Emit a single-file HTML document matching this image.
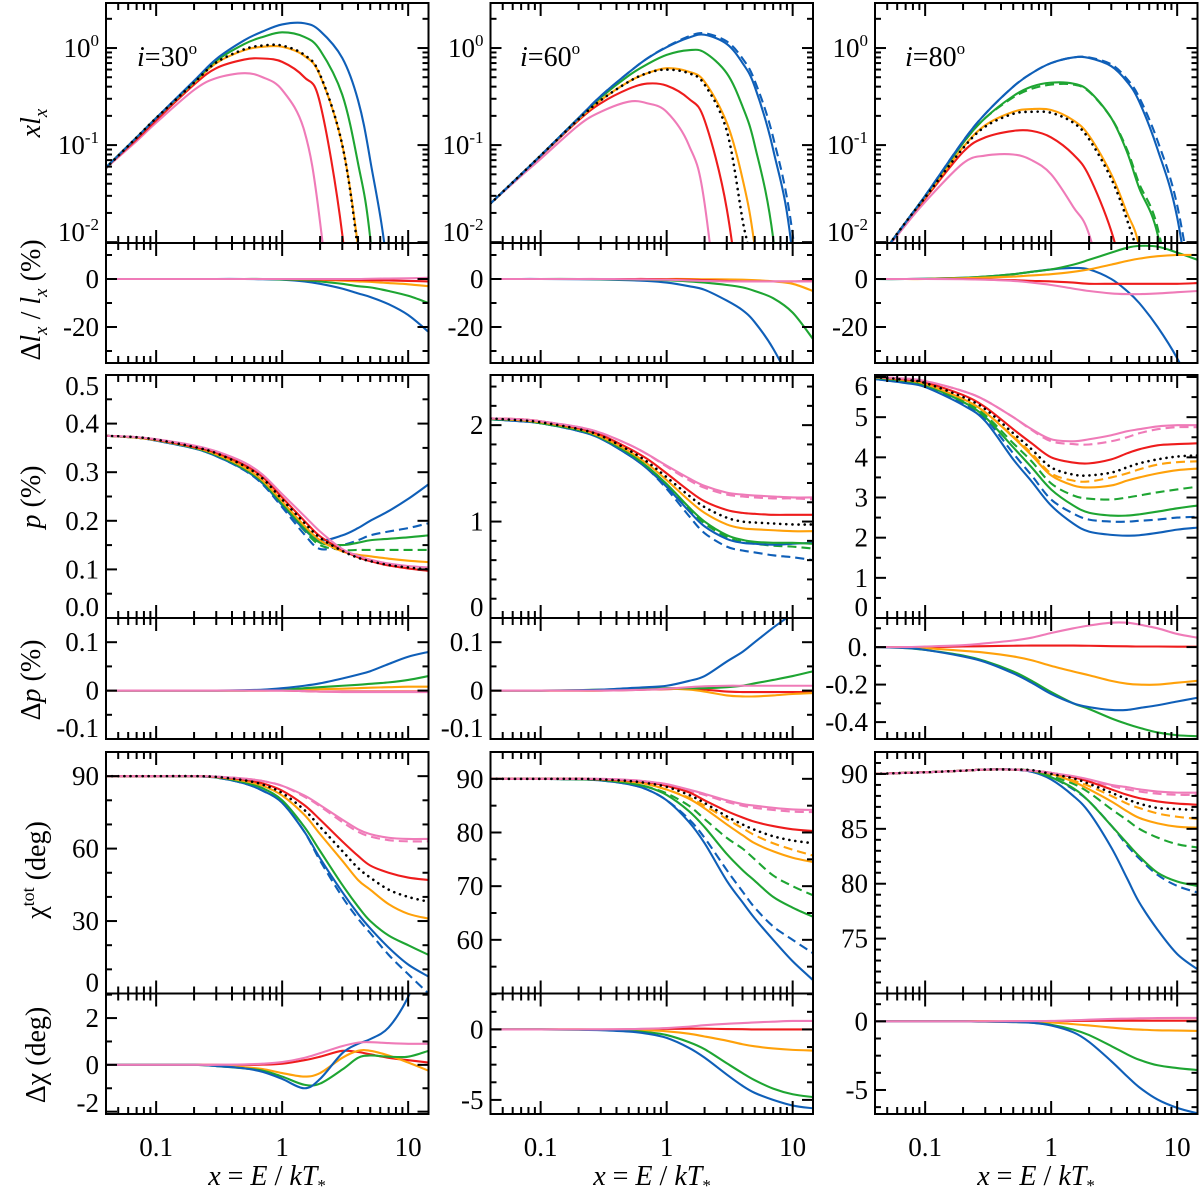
<!DOCTYPE html>
<html><head><meta charset="utf-8"><style>
html,body{margin:0;padding:0;background:#fff;width:1200px;height:1193px;overflow:hidden;}
svg{display:block;font-family:"Liberation Serif","DejaVu Serif",serif;}
text{font-family:"Liberation Serif","DejaVu Serif",serif;}
</style></head><body>
<svg id="fig" width="1200" height="1193" viewBox="0 0 1200 1193" xmlns="http://www.w3.org/2000/svg" font-family="Liberation Serif, serif">
<rect width="1200" height="1193" fill="#fff"/>
<g id="curves"></g>
<g id="frames"></g>
<g id="labels" font-size="26" fill="#000" font-family="Liberation Serif, serif">
  <text x="137" y="66" font-size="28"><tspan font-style="italic">i</tspan>=30<tspan font-size="17" dy="-12">o</tspan></text>
  <text x="520" y="66" font-size="28"><tspan font-style="italic">i</tspan>=60<tspan font-size="17" dy="-12">o</tspan></text>
  <text x="905" y="66" font-size="28"><tspan font-style="italic">i</tspan>=80<tspan font-size="17" dy="-12">o</tspan></text>
  <text transform="translate(40,123) rotate(-90)" text-anchor="middle" font-size="28"><tspan font-style="italic">xl</tspan><tspan font-style="italic" font-size="19" dy="7">x</tspan></text>
  <text transform="translate(40,300) rotate(-90)" text-anchor="middle" font-size="28">Δ<tspan font-style="italic">l</tspan><tspan font-style="italic" font-size="19" dy="7">x</tspan><tspan dy="-7"> / </tspan><tspan font-style="italic">l</tspan><tspan font-style="italic" font-size="19" dy="7">x</tspan><tspan dy="-7"> (%)</tspan></text>
  <text transform="translate(40,497) rotate(-90)" text-anchor="middle" font-size="28"><tspan font-style="italic">p</tspan> (%)</text>
  <text transform="translate(40,680) rotate(-90)" text-anchor="middle" font-size="28">Δ<tspan font-style="italic">p</tspan> (%)</text>
  <text transform="translate(45,870) rotate(-90)" text-anchor="middle" font-size="28">χ<tspan font-size="18" dy="-11">tot</tspan><tspan dy="11"> (deg)</tspan></text>
  <text transform="translate(45,1055) rotate(-90)" text-anchor="middle" font-size="28">Δχ (deg)</text>
  <text x="267" y="1185" text-anchor="middle" font-size="28"><tspan font-style="italic">x</tspan> = <tspan font-style="italic">E</tspan> / <tspan font-style="italic">kT</tspan><tspan font-size="17" dy="6">*</tspan></text>
  <text x="652" y="1185" text-anchor="middle" font-size="28"><tspan font-style="italic">x</tspan> = <tspan font-style="italic">E</tspan> / <tspan font-style="italic">kT</tspan><tspan font-size="17" dy="6">*</tspan></text>
  <text x="1036" y="1185" text-anchor="middle" font-size="28"><tspan font-style="italic">x</tspan> = <tspan font-style="italic">E</tspan> / <tspan font-style="italic">kT</tspan><tspan font-size="17" dy="6">*</tspan></text>
</g>
</svg>
<script>
// ---------- data ----------
const xGrid = [0.04,0.07,0.1,0.2,0.3,0.5,0.7,1,1.5,2,3,4,5,7,10,14.5];
const xTickVals = [0.1,1,10];
const xTickLabels = ["0.1","1","10"];

// row 1: x*l_x
const lx30_blue   = [.059,.12,.19,.46,.77,1.2,1.48,1.75,1.8,1.5,0.79,0.29,0.07,0.004,1e-5,1e-7];
const lx30_green  = [.059,.12,.19,.45,.74,1.1,1.3,1.45,1.3,0.95,0.33,0.065,0.011,1e-4,1e-7,1e-9];
const lx30_orange = [.059,.12,.19,.44,.7,.95,1.03,1.03,.83,.52,.1,.009,5e-4,1e-6,1e-9,1e-12];
const lx30_dotted = [.058,.12,.19,.44,.71,.97,1.06,1.06,.85,.53,.1,.008,4e-4,1e-6,1e-9,1e-12];
const lx30_red    = [.059,.115,.18,.42,.62,.76,.78,.72,.5,.27,.012,2e-4,1e-6,1e-9,1e-12,1e-14];
const lx30_pink   = [.058,.11,.17,.37,.49,.55,.5,.37,.14,.016,1e-4,1e-6,1e-8,1e-10,1e-12,1e-14];

const lx60_blue   = [.025,.05,.078,.19,.32,.56,.78,1.02,1.28,1.37,1.1,.7,.4,.09,.007,1e-5];
const lx60_blueD  = [.025,.05,.078,.19,.32,.56,.78,1.03,1.32,1.42,1.17,.78,.46,.12,.012,1e-4];
const lx60_green  = [.025,.05,.078,.19,.31,.52,.68,.85,.95,.9,.55,.25,.1,.011,1e-4,1e-7];
const lx60_orange = [.025,.05,.078,.185,.29,.45,.55,.62,.57,.45,.17,.045,.009,2e-4,1e-7,1e-10];
const lx60_dotted = [.025,.05,.078,.185,.29,.45,.55,.6,.55,.42,.14,.017,.003,1e-5,1e-8,1e-11];
const lx60_red    = [.025,.05,.077,.18,.27,.38,.43,.41,.3,.18,.022,.001,1e-5,1e-8,1e-11,1e-14];
const lx60_pink   = [.025,.048,.072,.16,.22,.28,.27,.22,.1,.025,2e-4,1e-6,1e-8,1e-10,1e-12,1e-14];

const lx80_blue   = [.006,.016,.03,.11,.21,.4,.55,.7,.8,.79,.65,.45,.28,.09,.018,.0008];
const lx80_blueD  = [.006,.016,.03,.11,.21,.4,.55,.7,.8,.8,.68,.48,.31,.11,.024,.0015];
const lx80_green  = [.006,.016,.03,.105,.19,.32,.4,.44,.43,.36,.19,.085,.036,.012,.0008,1e-5];
const lx80_greenD = [.006,.016,.03,.105,.19,.31,.38,.42,.42,.355,.19,.09,.04,.014,.001,1e-5];
const lx80_orange = [.006,.016,.029,.095,.16,.22,.235,.23,.18,.125,.05,.02,.009,.0008,1e-5,1e-8];
const lx80_dotted = [.006,.016,.029,.093,.155,.21,.22,.215,.17,.115,.045,.017,.006,.0004,1e-6,1e-9];
const lx80_red    = [.006,.016,.028,.085,.12,.14,.14,.12,.08,.048,.013,.003,6e-4,1e-5,1e-8,1e-11];
const lx80_pink   = [.006,.015,.026,.065,.078,.08,.07,.05,.023,.012,.0015,1e-4,1e-5,1e-7,1e-9,1e-11];

// row 2: delta l_x / l_x (%)
const dl30_blue   = [0,0,0,0,0,0,-0.1,-0.3,-1,-2,-4,-6,-7.5,-10.5,-15,-22];
const dl30_green  = [0,0,0,0,0,0,0,-0.2,-0.5,-1,-2,-3,-3.5,-5,-7,-10];
const dl30_orange = [0,0,0,0,0,0,0,0,-0.1,-0.3,-0.7,-1,-1.2,-1.7,-2.2,-3];
const dl30_red    = [0,0,0,0,0,0,0,0,-0.1,-0.2,-0.3,-0.4,-0.5,-0.6,-0.8,-1];
const dl30_pink   = [0,0,0,0,0,0,0,0,0,0,0,0,0.1,0.2,0.3,0.5];
const dl60_blue   = [0,0,0,-0.1,-0.2,-0.5,-0.8,-1.5,-3,-4.5,-9,-13,-18,-29,-45,-65];
const dl60_green  = [0,0,0,0,-0.1,-0.2,-0.3,-0.5,-1,-1.5,-2.5,-3.5,-5,-8,-14,-25];
const dl60_orange = [0,0,0,0,0,0,0,0,0,-0.1,-0.2,-0.3,-0.5,-1,-2,-5];
const dl60_red    = [0,0,0,0,0,0,0,-0.1,-0.3,-0.5,-0.8,-1,-1,-1,-1,-0.8];
const dl60_pink   = [0,0,0,0,0,-0.1,-0.2,-0.3,-0.6,-0.8,-1,-1,-1,-1,-1,-1];
const dl80_blue   = [0,0,0.1,0.5,1,2,3,4,4.6,4,0,-5,-10,-20,-33,-50];
const dl80_green  = [0,0,0.1,0.5,1,2,3,4,6,8,11,13,13.8,13.5,11,8];
const dl80_orange = [0,0,0,0.3,0.6,1,1.5,2,3,4,6,7.5,8.5,9.5,10,10];
const dl80_red    = [0,0,0,0,-0.2,-0.5,-0.8,-1,-1.5,-2,-2,-2,-2,-2,-2,-1.7];
const dl80_pink   = [0,0,0,-0.1,-0.3,-0.8,-1.5,-2.5,-4,-5,-6,-6.3,-6.3,-6,-5.5,-5];

// row 3: p (%)
const p30_pink    = [.375,.372,.368,.355,.343,.32,.295,.255,.21,.178,.142,.128,.12,.112,.107,.104];
const p30_red     = [.375,.372,.367,.352,.34,.315,.29,.248,.2,.168,.14,.125,.117,.108,.102,.097];
const p30_dotted  = [.375,.372,.367,.352,.339,.313,.287,.244,.196,.165,.138,.124,.117,.109,.104,.1];
const p30_orange  = [.375,.371,.366,.351,.337,.31,.283,.24,.19,.16,.137,.13,.127,.122,.118,.115];
const p30_green   = [.375,.371,.366,.35,.335,.307,.28,.235,.185,.155,.15,.155,.16,.163,.166,.17];
const p30_greenD  = [.375,.371,.366,.35,.335,.307,.279,.233,.18,.15,.14,.14,.14,.14,.14,.14];
const p30_blue    = [.375,.371,.365,.349,.333,.305,.277,.232,.182,.16,.17,.185,.2,.22,.245,.275];
const p30_blueD   = [.375,.371,.365,.349,.333,.304,.275,.228,.172,.142,.15,.16,.17,.178,.185,.195];
const p60_pink    = [2.07,2.06,2.04,1.98,1.92,1.8,1.7,1.58,1.45,1.37,1.3,1.28,1.27,1.26,1.25,1.25];
const p60_pinkD   = [2.07,2.06,2.04,1.98,1.92,1.8,1.7,1.57,1.43,1.35,1.28,1.26,1.25,1.24,1.24,1.23];
const p60_red     = [2.07,2.06,2.04,1.97,1.9,1.76,1.65,1.5,1.32,1.21,1.12,1.09,1.08,1.07,1.07,1.07];
const p60_dotted  = [2.07,2.05,2.03,1.96,1.89,1.74,1.62,1.46,1.27,1.15,1.04,1.0,0.99,0.98,0.97,0.97];
const p60_orange  = [2.07,2.05,2.03,1.96,1.88,1.73,1.6,1.43,1.22,1.09,0.97,0.93,0.92,0.91,0.9,0.9];
const p60_green   = [2.06,2.05,2.02,1.95,1.87,1.71,1.57,1.39,1.15,1.0,0.86,0.81,0.79,0.78,0.78,0.77];
const p60_greenD  = [2.06,2.05,2.02,1.95,1.87,1.71,1.57,1.38,1.13,0.98,0.84,0.79,0.77,0.75,0.74,0.72];
const p60_blue    = [2.06,2.04,2.02,1.94,1.86,1.69,1.55,1.36,1.11,0.95,0.82,0.78,0.77,0.76,0.77,0.78];
const p60_blueD   = [2.06,2.04,2.02,1.94,1.86,1.69,1.55,1.34,1.06,0.88,0.74,0.7,0.68,0.65,0.63,0.6];
const p80_pink    = [6.0,5.96,5.9,5.65,5.42,5.0,4.7,4.45,4.4,4.45,4.55,4.65,4.7,4.77,4.8,4.8];
const p80_pinkD   = [6.0,5.96,5.9,5.65,5.42,5.0,4.68,4.4,4.33,4.32,4.4,4.5,4.6,4.7,4.75,4.75];
const p80_red     = [6.0,5.94,5.87,5.55,5.25,4.7,4.35,4.0,3.87,3.85,3.95,4.1,4.2,4.3,4.33,4.35];
const p80_dotted  = [6.0,5.93,5.85,5.5,5.2,4.6,4.2,3.75,3.57,3.55,3.62,3.75,3.85,3.95,4.02,4.05];
const p80_orange  = [6.0,5.92,5.83,5.45,5.12,4.5,4.05,3.55,3.3,3.25,3.3,3.42,3.5,3.6,3.68,3.72];
const p80_orangeD = [6.0,5.92,5.83,5.45,5.12,4.52,4.1,3.6,3.42,3.4,3.5,3.6,3.7,3.82,3.88,3.9];
const p80_green   = [5.98,5.9,5.8,5.38,5.0,4.25,3.75,3.2,2.8,2.62,2.55,2.55,2.58,2.65,2.73,2.8];
const p80_greenD  = [5.98,5.9,5.8,5.4,5.05,4.35,3.9,3.35,3.05,2.97,2.95,3.0,3.05,3.13,3.2,3.27];
const p80_blue    = [5.95,5.85,5.75,5.3,4.9,3.95,3.4,2.8,2.35,2.15,2.07,2.05,2.06,2.12,2.2,2.25];
const p80_blueD   = [5.95,5.86,5.77,5.35,4.97,4.1,3.55,2.95,2.6,2.45,2.4,2.4,2.42,2.45,2.5,2.52];

// row 4: delta p (%)
const dp30_blue   = [0,0,0,0,0,0.001,0.002,0.005,0.01,0.015,0.025,0.033,0.04,0.055,0.07,0.08];
const dp30_green  = [0,0,0,0,0,0,0.001,0.002,0.005,0.007,0.01,0.012,0.014,0.017,0.022,0.03];
const dp30_orange = [0,0,0,0,0,0,0,0.001,0.002,0.003,0.004,0.005,0.006,0.007,0.008,0.008];
const dp30_red    = [0,0,0,0,0,0,0,0,-0.001,-0.002,-0.002,-0.002,-0.002,-0.002,-0.002,-0.002];
const dp30_pink   = [0,0,0,0,0,0,0,0,-0.001,-0.002,-0.003,-0.003,-0.003,-0.003,-0.003,-0.003];
const dp60_blue   = [0,0,0,0.001,0.002,0.005,0.007,0.01,0.02,0.03,0.06,0.08,0.1,0.13,0.16,0.2];
const dp60_green  = [0,0,0,0.001,0.002,0.003,0.004,0.005,0.005,0.005,0.007,0.01,0.015,0.022,0.03,0.04];
const dp60_orange = [0,0,0,0,0,0.002,0.003,0.004,0.002,-0.002,-0.01,-0.012,-0.012,-0.01,-0.007,-0.005];
const dp60_red    = [0,0,0,0,0,0.001,0.002,0.003,0.004,0.002,-0.002,-0.003,-0.003,-0.003,-0.003,-0.003];
const dp60_pink   = [0,0,0,0,0,0.001,0.002,0.004,0.007,0.009,0.01,0.01,0.01,0.01,0.01,0.01];
const dp80_blue   = [0,-0.005,-0.015,-0.05,-0.08,-0.14,-0.19,-0.25,-0.3,-0.32,-0.335,-0.335,-0.325,-0.31,-0.29,-0.27];
const dp80_green  = [0,-0.005,-0.015,-0.045,-0.075,-0.13,-0.18,-0.24,-0.3,-0.33,-0.38,-0.41,-0.43,-0.455,-0.47,-0.475];
const dp80_orange = [0,0,-0.005,-0.02,-0.03,-0.05,-0.07,-0.1,-0.13,-0.15,-0.18,-0.195,-0.2,-0.2,-0.19,-0.18];
const dp80_red    = [0,0,0,0.003,0.005,0.007,0.008,0.008,0.008,0.007,0.005,0.004,0.003,0.003,0.002,0.002];
const dp80_pink   = [0,0,0.003,0.01,0.02,0.035,0.05,0.075,0.1,0.115,0.13,0.13,0.12,0.1,0.07,0.05];

// row 5: chi_tot (deg)
const ch30_pink   = [90,90,90,90,89.8,89,88,86,82,78,72,68,66,64.5,64,64];
const ch30_pinkD  = [90,90,90,90,89.8,89,88,86,81.5,77.5,71,67,65,63.5,63,63];
const ch30_red    = [90,90,90,90,89.7,88.5,87,84,78,72,63,57,53,50,48,47];
const ch30_dotted = [90,90,90,90,89.7,88.3,86.5,83,76,69,59,52,48,43,40,38];
const ch30_orange = [90,90,90,90,89.6,88,86,82,74,66,55,47,43,37,33,31];
const ch30_green  = [90,90,90,89.9,89.5,87.5,85,80,69,59,45,36,30,24,20,16];
const ch30_blue   = [90,90,90,89.9,89.4,87,84,79,67,56,42,33,27,19,12,7];
const ch30_blueD  = [90,90,90,89.9,89.4,87,84,79,67,55,40,31,25,16,8,0];
const ch60_pink   = [90,90,90,90,90,89.8,89.5,89,88,87.2,86,85.3,85,84.6,84.3,84.2];
const ch60_pinkD  = [90,90,90,90,90,89.8,89.5,89,87.8,87,85.7,85,84.6,84.2,83.9,83.8];
const ch60_red    = [90,90,90,90,89.9,89.7,89.4,88.7,87.5,86,84,82.8,82,81.2,80.6,80.3];
const ch60_dotted = [90,90,90,90,89.9,89.6,89.2,88.5,87,85.5,83,81.5,80.5,79.3,78.5,78];
const ch60_orange = [90,90,90,90,89.9,89.5,89,88,86.3,84.5,81.5,79.5,78,76.5,75.3,74.5];
const ch60_orangeD= [90,90,90,90,89.9,89.5,89,88,86.5,85,82.5,80.8,79.5,78,76.8,75.7];
const ch60_green  = [90,90,90,89.9,89.8,89.2,88.5,87,84,81,76,73,71,68,66,64.3];
const ch60_greenD = [90,90,90,89.9,89.8,89.2,88.5,87.3,85,82.5,79,77,75,72,70,68.3];
const ch60_blue   = [90,90,90,89.9,89.7,89,88,86,82,78,71,67,64,60,56,52.5];
const ch60_blueD  = [90,90,90,89.9,89.7,89,88,86,82.5,79,73,69,66,62.5,60,57.5];
const ch80_pink   = [90,90.1,90.15,90.3,90.4,90.4,90.3,90.1,89.8,89.5,89,88.8,88.6,88.4,88.3,88.3];
const ch80_pinkD  = [90,90.1,90.15,90.3,90.4,90.4,90.3,90.1,89.7,89.4,88.9,88.6,88.4,88.2,88.1,88.1];
const ch80_red    = [90,90.1,90.15,90.3,90.4,90.4,90.3,90.1,89.7,89.3,88.6,88.1,87.8,87.5,87.3,87.2];
const ch80_dotted = [90,90.1,90.15,90.3,90.4,90.4,90.35,90,89.6,89.1,88.3,87.7,87.3,86.9,86.8,86.7];
const ch80_orange = [90,90.1,90.15,90.3,90.4,90.4,90.3,90,89.3,88.6,87.5,86.6,86,85.5,85.2,85.1];
const ch80_orangeD= [90,90.1,90.15,90.3,90.4,90.4,90.3,90,89.4,88.9,88,87.3,86.9,86.4,86.1,85.9];
const ch80_green  = [90,90.1,90.15,90.3,90.4,90.4,90.3,89.7,88.7,87.5,85.3,83.7,82.5,81,80.2,79.8];
const ch80_greenD = [90,90.1,90.15,90.3,90.4,90.4,90.3,89.8,89.1,88.3,86.8,85.8,85,84.2,83.6,83.3];
const ch80_blue   = [90,90.1,90.15,90.3,90.4,90.4,90.2,89.5,88,86.5,83.3,80.5,78.3,75.8,73.6,72.2];
const ch80_blueD  = [90,90.1,90.15,90.3,90.4,90.4,90.2,89.7,88.6,87.5,85.3,83.5,82.3,80.8,79.8,79.2];

// row 6: delta chi (deg)
const dc30_blue   = [0,0,0,0,-0.05,-0.15,-0.3,-0.6,-1.0,-0.6,0.5,0.9,1.1,1.6,2.9,5];
const dc30_green  = [0,0,0,0,-0.05,-0.15,-0.25,-0.5,-0.85,-0.8,-0.2,0.3,0.4,0.35,0.35,0.6];
const dc30_orange = [0,0,0,0,-0.03,-0.1,-0.18,-0.35,-0.5,-0.35,0.3,0.6,0.6,0.4,0.1,-0.25];
const dc30_red    = [0,0,0,0,0,0,0.01,0.05,0.2,0.35,0.6,0.55,0.45,0.3,0.2,0.1];
const dc30_pink   = [0,0,0,0,0,0.02,0.05,0.12,0.3,0.5,0.8,0.95,0.97,0.93,0.9,0.9];
const dc60_blue   = [0,0,0,-0.02,-0.05,-0.15,-0.3,-0.6,-1.3,-2,-3.2,-4,-4.5,-5,-5.4,-5.6];
const dc60_green  = [0,0,0,-0.02,-0.04,-0.1,-0.2,-0.4,-0.9,-1.4,-2.4,-3.1,-3.6,-4.2,-4.6,-4.8];
const dc60_orange = [0,0,0,0,-0.01,-0.03,-0.06,-0.13,-0.3,-0.5,-0.8,-1.05,-1.2,-1.35,-1.45,-1.5];
const dc60_red    = [0,0,0,0,0,0.01,0.02,0.04,0.05,0.05,0.03,0.02,0,0,0,0];
const dc60_pink   = [0,0,0,0,0,0.02,0.05,0.1,0.2,0.3,0.4,0.45,0.5,0.55,0.6,0.6];
const dc80_blue   = [0,0,0,0,-0.02,-0.05,-0.1,-0.3,-0.8,-1.5,-2.9,-4,-4.8,-5.7,-6.3,-6.7];
const dc80_green  = [0,0,0,0,-0.02,-0.05,-0.1,-0.25,-0.6,-1,-1.8,-2.4,-2.8,-3.2,-3.4,-3.55];
const dc80_orange = [0,0,0,0,0,-0.02,-0.03,-0.08,-0.2,-0.3,-0.45,-0.55,-0.6,-0.65,-0.67,-0.7];
const dc80_red    = [0,0,0,0,0,0,0.01,0.02,0.03,0.04,0.05,0.05,0.05,0.05,0.05,0.05];
const dc80_pink   = [0,0,0,0,0,0.01,0.02,0.03,0.08,0.12,0.18,0.2,0.22,0.24,0.25,0.25];

// ---------- layout ----------
const C = {blue:"#0f5fb8", green:"#1ea532", orange:"#ffa10a", red:"#ee1c1c", pink:"#ef7bb8", black:"#000"};
const cols = [{l:106,r:428.5},{l:490.5,r:813},{l:875,r:1197.5}];
const rows = [{t:3,b:243},{t:243,b:363},{t:375,b:618},{t:618,b:739},{t:752,b:993.5},{t:993.5,b:1114}];
const xMin = 0.04, xMax = 14.5;

function S(arr,color,dash){return {arr,color,dash};}
const panels = [
 {r:0,c:0,log:true,y:[0.0098,2.91],name:"xlx-i30",series:[S(lx30_pink,C.pink),S(lx30_red,C.red),S(lx30_orange,C.orange),S(lx30_green,C.green),S(lx30_blue,C.blue),S(lx30_dotted,C.black,"dot")]},
 {r:0,c:1,log:true,y:[0.0098,2.91],name:"xlx-i60",series:[S(lx60_pink,C.pink),S(lx60_red,C.red),S(lx60_orange,C.orange),S(lx60_green,C.green),S(lx60_blue,C.blue),S(lx60_blueD,C.blue,"dash"),S(lx60_dotted,C.black,"dot")]},
 {r:0,c:2,log:true,y:[0.0098,2.91],name:"xlx-i80",series:[S(lx80_pink,C.pink),S(lx80_red,C.red),S(lx80_orange,C.orange),S(lx80_green,C.green),S(lx80_greenD,C.green,"dash"),S(lx80_blue,C.blue),S(lx80_blueD,C.blue,"dash"),S(lx80_dotted,C.black,"dot")]},
 {r:1,c:0,y:[-35,15],name:"dlx-i30",series:[S(dl30_blue,C.blue),S(dl30_green,C.green),S(dl30_orange,C.orange),S(dl30_red,C.red),S(dl30_pink,C.pink)]},
 {r:1,c:1,y:[-35,15],name:"dlx-i60",series:[S(dl60_blue,C.blue),S(dl60_green,C.green),S(dl60_orange,C.orange),S(dl60_red,C.red),S(dl60_pink,C.pink)]},
 {r:1,c:2,y:[-35,15],name:"dlx-i80",series:[S(dl80_blue,C.blue),S(dl80_green,C.green),S(dl80_orange,C.orange),S(dl80_red,C.red),S(dl80_pink,C.pink)]},
 {r:2,c:0,y:[0,0.5],name:"p-i30",series:[S(p30_blueD,C.blue,"dash"),S(p30_greenD,C.green,"dash"),S(p30_blue,C.blue),S(p30_green,C.green),S(p30_orange,C.orange),S(p30_red,C.red),S(p30_pink,C.pink),S(p30_dotted,C.black,"dot")]},
 {r:2,c:1,y:[0,2.52],name:"p-i60",series:[S(p60_blueD,C.blue,"dash"),S(p60_greenD,C.green,"dash"),S(p60_pinkD,C.pink,"dash"),S(p60_blue,C.blue),S(p60_green,C.green),S(p60_orange,C.orange),S(p60_red,C.red),S(p60_pink,C.pink),S(p60_dotted,C.black,"dot")]},
 {r:2,c:2,y:[0,6.05],name:"p-i80",series:[S(p80_blueD,C.blue,"dash"),S(p80_greenD,C.green,"dash"),S(p80_orangeD,C.orange,"dash"),S(p80_pinkD,C.pink,"dash"),S(p80_blue,C.blue),S(p80_green,C.green),S(p80_orange,C.orange),S(p80_red,C.red),S(p80_pink,C.pink),S(p80_dotted,C.black,"dot")]},
 {r:3,c:0,y:[-0.1,0.15],name:"dp-i30",series:[S(dp30_red,C.red),S(dp30_orange,C.orange),S(dp30_green,C.green),S(dp30_blue,C.blue),S(dp30_pink,C.pink)]},
 {r:3,c:1,y:[-0.1,0.15],name:"dp-i60",series:[S(dp60_red,C.red),S(dp60_orange,C.orange),S(dp60_green,C.green),S(dp60_blue,C.blue),S(dp60_pink,C.pink)]},
 {r:3,c:2,y:[-0.49,0.155],name:"dp-i80",series:[S(dp80_red,C.red),S(dp80_orange,C.orange),S(dp80_green,C.green),S(dp80_blue,C.blue),S(dp80_pink,C.pink)]},
 {r:4,c:0,y:[0,100],name:"chi-i30",series:[S(ch30_blueD,C.blue,"dash"),S(ch30_pinkD,C.pink,"dash"),S(ch30_blue,C.blue),S(ch30_green,C.green),S(ch30_orange,C.orange),S(ch30_red,C.red),S(ch30_pink,C.pink),S(ch30_dotted,C.black,"dot")]},
 {r:4,c:1,y:[50,95],name:"chi-i60",series:[S(ch60_blueD,C.blue,"dash"),S(ch60_greenD,C.green,"dash"),S(ch60_orangeD,C.orange,"dash"),S(ch60_pinkD,C.pink,"dash"),S(ch60_blue,C.blue),S(ch60_green,C.green),S(ch60_orange,C.orange),S(ch60_red,C.red),S(ch60_pink,C.pink),S(ch60_dotted,C.black,"dot")]},
 {r:4,c:2,y:[70,92],name:"chi-i80",series:[S(ch80_blueD,C.blue,"dash"),S(ch80_greenD,C.green,"dash"),S(ch80_orangeD,C.orange,"dash"),S(ch80_pinkD,C.pink,"dash"),S(ch80_blue,C.blue),S(ch80_green,C.green),S(ch80_orange,C.orange),S(ch80_red,C.red),S(ch80_pink,C.pink),S(ch80_dotted,C.black,"dot")]},
 {r:5,c:0,y:[-2.1,3.05],name:"dchi-i30",series:[S(dc30_red,C.red),S(dc30_orange,C.orange),S(dc30_green,C.green),S(dc30_blue,C.blue),S(dc30_pink,C.pink)]},
 {r:5,c:1,y:[-6.0,2.55],name:"dchi-i60",series:[S(dc60_red,C.red),S(dc60_orange,C.orange),S(dc60_green,C.green),S(dc60_blue,C.blue),S(dc60_pink,C.pink)]},
 {r:5,c:2,y:[-6.75,2.03],name:"dchi-i80",series:[S(dc80_red,C.red),S(dc80_orange,C.orange),S(dc80_green,C.green),S(dc80_blue,C.blue),S(dc80_pink,C.pink)]}
];
const yTicks = {
 "xlx":{maj:[0.01,0.1,1],lab:["10|-2","10|-1","10|0"]},
 "dlx-i30":{maj:[0,-20],lab:["0","-20"],minor:10},
 "dlx-i60":{maj:[0,-20],lab:["0","-20"],minor:10},
 "dlx-i80":{maj:[0,-20],lab:["0","-20"],minor:10},
 "p-i30":{maj:[0,0.1,0.2,0.3,0.4,0.5],lab:["0.0","0.1","0.2","0.3","0.4","0.5"],minor:0.05},
 "p-i60":{maj:[0,1,2],lab:["0","1","2"],minor:0.2},
 "p-i80":{maj:[0,1,2,3,4,5,6],lab:["0","1","2","3","4","5","6"],minor:0.5},
 "dp-i30":{maj:[-0.1,0,0.1],lab:["-0.1","0","0.1"],minor:0.05},
 "dp-i60":{maj:[-0.1,0,0.1],lab:["-0.1","0","0.1"],minor:0.05},
 "dp-i80":{maj:[-0.4,-0.2,0],lab:["-0.4","-0.2","0."],minor:0.1},
 "chi-i30":{maj:[0,30,60,90],lab:["0","30","60","90"],minor:10},
 "chi-i60":{maj:[60,70,80,90],lab:["60","70","80","90"],minor:5},
 "chi-i80":{maj:[75,80,85,90],lab:["75","80","85","90"],minor:1},
 "dchi-i30":{maj:[-2,0,2],lab:["-2","0","2"],minor:1},
 "dchi-i60":{maj:[-5,0],lab:["-5","0"],minor:1.25},
 "dchi-i80":{maj:[-5,0],lab:["-5","0"],minor:1.25}
};

const NS = "http://www.w3.org/2000/svg";
const svg = document.getElementById("fig");
const gCurves = document.getElementById("curves");
const gFrames = document.getElementById("frames");
const FONT = "Liberation Serif, serif";
function el(tag, attrs, parent){const e=document.createElementNS(NS,tag);for(const k in attrs)e.setAttribute(k,attrs[k]);parent.appendChild(e);return e;}
const defs = el("defs",{},svg);

function xScale(c){const L=cols[c].l,R=cols[c].r;const a=Math.log10(xMin),b=Math.log10(xMax);return v=>L+(Math.log10(v)-a)/(b-a)*(R-L);}
function yScale(p){const T=rows[p.r].t,B=rows[p.r].b;
  if(p.log){const a=Math.log10(p.y[0]),b=Math.log10(p.y[1]);return v=>B-(Math.log10(Math.max(v,1e-30))-a)/(b-a)*(B-T);}
  return v=>B-(v-p.y[0])/(p.y[1]-p.y[0])*(B-T);}
function smoothPath(pts){
  let d="M"+pts[0][0].toFixed(2)+","+pts[0][1].toFixed(2);
  for(let i=0;i<pts.length-1;i++){
    const p0=pts[i-1]||pts[i],p1=pts[i],p2=pts[i+1],p3=pts[i+2]||p2;
    const c1=[p1[0]+(p2[0]-p0[0])/6,p1[1]+(p2[1]-p0[1])/6];
    const c2=[p2[0]-(p3[0]-p1[0])/6,p2[1]-(p3[1]-p1[1])/6];
    d+=" C"+c1[0].toFixed(2)+","+c1[1].toFixed(2)+" "+c2[0].toFixed(2)+","+c2[1].toFixed(2)+" "+p2[0].toFixed(2)+","+p2[1].toFixed(2);
  }
  return d;
}
function clampY(y,T,B){return Math.max(T+11,Math.min(B-11,y));}

panels.forEach((p,pi)=>{
  const L=cols[p.c].l,R=cols[p.c].r,T=rows[p.r].t,B=rows[p.r].b;
  const xs=xScale(p.c), ys=yScale(p);
  const cp=el("clipPath",{id:"clip"+pi},defs);
  el("rect",{x:L,y:T,width:R-L,height:B-T},cp);
  const g=el("g",{"clip-path":"url(#clip"+pi+")"},gCurves);
  
  
  p.series.forEach(s=>{
    const pts=xGrid.map((x,i)=>[xs(x),ys(s.arr[i])]);
    const path=el("path",{d:smoothPath(pts),fill:"none",stroke:s.color,"stroke-width":s.dash==="dot"?2.6:2.1,"stroke-linejoin":"round"},g);
    if(s.dash==="dash"){path.setAttribute("stroke-dasharray","9,5");}
    if(s.dash==="dot"){path.setAttribute("stroke-dasharray","0.1,6");path.setAttribute("stroke-linecap","round");}
    
    
  });
  const fr=el("g",{stroke:"#000","stroke-width":2,fill:"none"},gFrames);
  
  
  el("rect",{x:L,y:T,width:R-L,height:B-T},fr);
  for(let dec=-2;dec<=1;dec++){
    for(let m=1;m<=9;m++){
      const v=m*Math.pow(10,dec); if(v<xMin||v>xMax) continue;
      const x=xs(v), len=(m===1)?13:7;
      el("line",{x1:x,y1:B,x2:x,y2:B-len},fr);
      el("line",{x1:x,y1:T,x2:x,y2:T+len},fr);
    }
  }
  const key=p.log?"xlx":p.name, spec=yTicks[key];
  if(p.log){
    for(let dec=-3;dec<=0;dec++)for(let m=1;m<=9;m++){
      const v=m*Math.pow(10,dec); if(v<p.y[0]||v>p.y[1]) continue;
      const y=ys(v),len=m===1?11:6;
      el("line",{x1:L,y1:y,x2:L+len,y2:y},fr);el("line",{x1:R,y1:y,x2:R-len,y2:y},fr);
    }
  } else {
    const st=spec.minor, lo=Math.ceil(p.y[0]/st-1e-6), hi=Math.floor(p.y[1]/st+1e-6);
    for(let k=lo;k<=hi;k++){
      const v=k*st,y=ys(v);
      const isMaj=spec.maj.some(m=>Math.abs(m-v)<1e-6);
      const len=isMaj?11:6;
      el("line",{x1:L,y1:y,x2:L+len,y2:y},fr);el("line",{x1:R,y1:y,x2:R-len,y2:y},fr);
    }
  }
  spec.maj.forEach((v,i)=>{
    if(v<p.y[0]-1e-9||v>p.y[1]+1e-9) return;
    const y=clampY(ys(v),T,B);
    const t=el("text",{x:L-7,y:y+9,"text-anchor":"end","font-size":27,"font-family":FONT},svg);
    
    
    const lab=spec.lab[i];
    if(lab.indexOf("|")>=0){
      const [b,e]=lab.split("|");
      t.appendChild(document.createTextNode(b));
      const ts=el("tspan",{"font-size":17,dy:-11},t); ts.textContent=e;
    } else t.textContent=lab;
  });
  if(p.r===5){
    xTickVals.forEach((v,i)=>{
      const t=el("text",{x:xs(v),y:1156,"text-anchor":"middle","font-size":27,"font-family":FONT},svg);
      
      
      t.textContent=xTickLabels[i];
    });
  }
});
</script>
</body></html>
